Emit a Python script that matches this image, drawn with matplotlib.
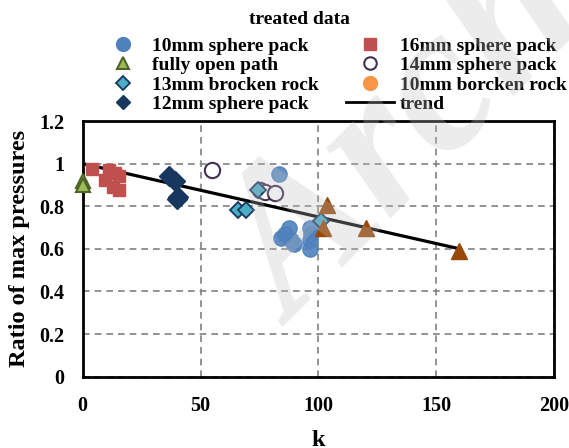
import matplotlib
matplotlib.use("Agg")
import matplotlib.pyplot as plt
from matplotlib.lines import Line2D

plt.rcParams['font.family'] = ['Liberation Serif', 'DejaVu Serif']
plt.rcParams['font.weight'] = 'bold'

# data
k_10mm = [83.5, 87.5, 84, 88.5, 89.5, 86, 96.5, 97, 96.5, 96.5]
r_10mm = [0.95, 0.70, 0.65, 0.64, 0.625, 0.67, 0.70, 0.67, 0.64, 0.60]
k_open = [0, 0]
r_open = [0.92, 0.90]
k_13rock = [66, 69.5, 74.5, 101]
r_13rock = [0.78, 0.78, 0.875, 0.73]
k_12mm = [36.5, 39, 40.5, 40]
r_12mm = [0.94, 0.92, 0.845, 0.835]
k_16mm = [3.8, 11.3, 13.7, 15.5, 9.5, 13, 15.5]
r_16mm = [0.975, 0.97, 0.955, 0.944, 0.923, 0.892, 0.877]
k_14mm = [54.7, 75.3, 77.4, 81.6]
r_14mm = [0.97, 0.877, 0.869, 0.861]
k_brown = [103.6, 102.1, 120.2, 159.5]
r_brown = [0.806, 0.70, 0.70, 0.59]
k_trend = [0, 160]
r_trend = [1.0, 0.60]

x_ticks = [0, 50, 100, 150, 200]
y_ticks = [0, 0.2, 0.4, 0.6, 0.8, 1.0, 1.2]
y_ticklabels = ['0', '0.2', '0.4', '0.6', '0.8', '1', '1.2']

W, H = 569, 448
fig = plt.figure(figsize=(W / 100, H / 100), dpi=100)
ax = fig.add_axes([82.7 / W, 1 - 376.7 / H, (554 - 82.7) / W, (376.7 - 121) / H])

ms = 11
ax.plot(k_trend, r_trend, color='black', lw=2.3, zorder=3)
ax.plot(k_16mm, r_16mm, 's', color='#C0504D', ms=8.5, mec='#C0504D', ls='none', zorder=4)
ax.plot(k_open, r_open, '^', color='#9BBB59', mec='#4F6228', mew=1.5, ms=10, ls='none', zorder=5, clip_on=False)
ax.plot(k_12mm, r_12mm, 'D', color='#17375E', mec='#17375E', ms=10, ls='none', zorder=4)
ax.plot(k_14mm, r_14mm, 'o', mfc='white', mec='#403152', mew=1.5, ms=ms, ls='none', zorder=4)
ax.plot(k_10mm, r_10mm, 'o', color='#4F81BD', mec='#4F81BD', ms=ms, alpha=0.9, ls='none', zorder=4)
ax.plot(k_13rock, r_13rock, 'D', color='#4BACC6', mec='#17375E', mew=1.3, ms=8.5, ls='none', zorder=5)
ax.plot(k_brown, r_brown, '^', color='#984807', mec='#984807', ms=12, ls='none', zorder=5)

ax.set_xlim(0, 200)
ax.set_ylim(0, 1.2)
ax.set_xticks(x_ticks)
ax.set_yticks(y_ticks)
ax.set_yticklabels(y_ticklabels)
ax.tick_params(length=0, labelsize=14.5)
ax.tick_params(axis='x', pad=14)
ax.tick_params(axis='y', pad=13)
for lbl in ax.get_xticklabels() + ax.get_yticklabels():
    lbl.set_fontweight('bold')
ax.grid(True, color='#808080', ls=(0, (4, 3)), lw=1.2)
ax.set_axisbelow(True)
for s in ax.spines.values():
    s.set_linewidth(2)
    s.set_color('black')
ax.set_xlabel('k', fontsize=17.5, fontweight='bold', labelpad=10)
ax.set_ylabel('Ratio of max pressures', fontsize=17.5, fontweight='bold', labelpad=7)

handles = [
    Line2D([], [], marker='o', color='#4F81BD', ls='none', ms=10),
    Line2D([], [], marker='^', color='#9BBB59', mec='#4F6228', mew=1.5, ls='none', ms=9),
    Line2D([], [], marker='D', color='#4BACC6', mec='#17375E', mew=1.3, ls='none', ms=7),
    Line2D([], [], marker='D', color='#17375E', ls='none', ms=7),
    Line2D([], [], marker='s', color='#C0504D', ls='none', ms=8),
    Line2D([], [], marker='o', mfc='white', mec='#403152', mew=1.5, ls='none', ms=9),
    Line2D([], [], marker='o', color='#F79646', ls='none', ms=10),
    Line2D([], [], color='black', lw=2),
]
labels = ['10mm sphere pack', 'fully open path', '13mm brocken rock', '12mm sphere pack',
          '16mm sphere pack', '14mm sphere pack', '10mm borcken rock', 'trend']
fig.legend(handles, labels, ncol=2, loc='upper left', bbox_to_anchor=(89 / W, 1 - 27.5 / H),
           frameon=False, prop={'weight': 'bold', 'size': 14}, borderpad=0,
           handlelength=2.45, handletextpad=0.3, columnspacing=1.4, labelspacing=0.09)
fig.text(299 / W, 1 - 20 / H, 'treated data', fontsize=14, fontweight='bold',
         ha='center', va='center')

fig.text(410 / W, 1 - 140 / H, 'Arch', fontsize=150, color='#c0c0c0', alpha=0.3, rotation=45,
         ha='center', va='center', fontweight='bold', fontstyle='italic', zorder=10)

fig.savefig('out.png', dpi=100)
